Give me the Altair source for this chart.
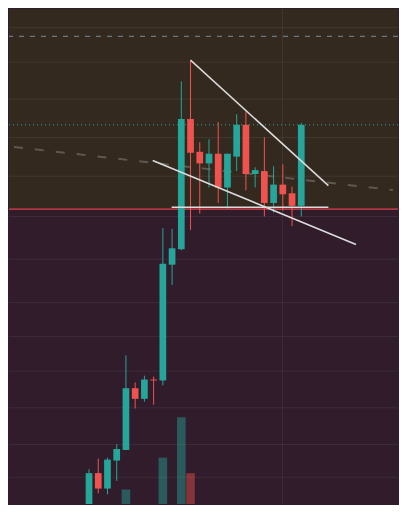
import altair as alt
import pandas as pd

# ---- data (price units are arbitrary) ----
bar_index = list(range(24))
opens  = [-1.0, 3.2, 1.6, 4.5, 5.6, 12.0, 10.9, 12.9, 12.8, 24.8, 26.4, 39.9,
          36.5, 35.3, 36.3, 32.8, 36.0, 39.3, 34.2, 34.5, 31.2, 33.1, 32.2, 30.9]
highs  = [3.6, 4.7, 4.8, 6.2, 15.4, 12.6, 13.3, 13.2, 28.6, 28.5, 43.8, 46.0,
          37.5, 37.8, 39.6, 36.3, 40.4, 40.7, 34.9, 38.0, 35.0, 35.2, 32.9, 39.5]
lows   = [-1.5, 1.1, 1.0, 2.4, 5.6, 9.9, 10.6, 10.3, 12.3, 22.7, 26.3, 28.4,
          30.1, 32.8, 31.2, 30.6, 34.5, 32.5, 32.8, 29.8, 30.2, 30.4, 28.8, 29.8]
closes = [3.2, 1.6, 4.6, 5.7, 12.0, 10.9, 12.9, 12.8, 24.9, 26.5, 39.9, 36.4,
          35.3, 36.3, 32.8, 36.3, 39.3, 34.2, 34.6, 31.2, 33.1, 32.1, 30.9, 39.3]
volumes = [0, 0, 0, 0, 88, 0, 0, 0, 281, 0, 526, 187,
           0, 0, 0, 0, 0, 0, 0, 0, 0, 0, 0, 0]

grid_levels = [49.37, 45.8, 41.97, 37.97, 33.97, 29.8, 25.37, 20.87, 17.37,
               13.77, 9.97, 6.17, 2.77]
xgrid_positions = [20.96]

zone_names = ["upper", "lower"]
zone_low = [30.57, 0.0]
zone_high = [51.3, 30.57]

red_level = [30.57]
blue_dashed_level = [48.47]
teal_dotted_level = [39.3]

slope_x = [-8.13, 32.94]
slope_y = [37.0, 32.53]

trend_ids = ["upper", "upper", "lower", "lower", "base", "base"]
trend_x = [11.0, 25.94, 6.90, 28.93, 8.95, 25.94]
trend_y = [46.0, 33.0, 35.6, 26.9, 30.75, 30.75]

X_DOMAIN = [-8.13, 32.94]
Y_DOMAIN = [0, 51.3]
VOL_DOMAIN = [0, 3000]

UP = "#26a69a"
DOWN = "#ef5350"

candles = pd.DataFrame({
    "i": bar_index, "open": opens, "high": highs, "low": lows,
    "close": closes, "volume": volumes,
})
candles["dir"] = ["up" if c >= o else "down" for o, c in zip(opens, closes)]

xs = alt.Scale(domain=X_DOMAIN, nice=False, zero=False)
ys = alt.Scale(domain=Y_DOMAIN, nice=False, zero=False)
col = alt.Scale(domain=["up", "down"], range=[UP, DOWN])

X = lambda f: alt.X(f, type="quantitative", scale=xs, axis=None)
Y = lambda f: alt.Y(f, type="quantitative", scale=ys, axis=None)

zones = pd.DataFrame({"zone": zone_names, "lo": zone_low, "hi": zone_high})
zone_layer = alt.Chart(zones).mark_rect().encode(
    y=Y("lo"), y2="hi",
    color=alt.Color("zone:N", scale=alt.Scale(domain=zone_names,
                    range=["#33291f", "#301c2a"]), legend=None),
)

hgrid = alt.Chart(pd.DataFrame({"v": grid_levels})).mark_rule(
    color="#ffffff", opacity=0.07, strokeWidth=1).encode(y=Y("v"))
vgrid = alt.Chart(pd.DataFrame({"v": xgrid_positions})).mark_rule(
    color="#ffffff", opacity=0.07, strokeWidth=1).encode(x=X("v"))

slope = alt.Chart(pd.DataFrame({"x": slope_x, "y": slope_y})).mark_line(
    color="#5f5850", strokeWidth=2, strokeDash=[9, 12], clip=True
).encode(x=X("x"), y=Y("y"))

blue_line = alt.Chart(pd.DataFrame({"v": blue_dashed_level})).mark_rule(
    color="#7b8a9a", strokeWidth=1, strokeDash=[5, 6]).encode(y=Y("v"))
teal_line = alt.Chart(pd.DataFrame({"v": teal_dotted_level})).mark_rule(
    color=UP, strokeWidth=1, strokeDash=[1, 3]).encode(y=Y("v"))
red_line = alt.Chart(pd.DataFrame({"v": red_level})).mark_rule(
    color="#e0404e", strokeWidth=1.2).encode(y=Y("v"))

base = alt.Chart(candles)
wicks = base.mark_rule(strokeWidth=1, clip=True).encode(
    x=X("i"), y=Y("low"), y2="high",
    color=alt.Color("dir:N", scale=col, legend=None))
bodies = base.mark_bar(size=6.7, clip=True).encode(
    x=X("i"), y=Y("open"), y2="close",
    color=alt.Color("dir:N", scale=col, legend=None))

trend = alt.Chart(pd.DataFrame({"id": trend_ids, "x": trend_x, "y": trend_y})
                  ).mark_line(color="#dcdcdc", strokeWidth=1.5, clip=True).encode(
    x=X("x"), y=Y("y"), detail="id:N")

price_layers = alt.layer(
    zone_layer,
    alt.layer(hgrid, vgrid, slope, blue_line, teal_line, red_line,
              wicks, bodies, trend),
).resolve_scale(color="independent")

vol_layer = base.mark_bar(size=8.6, clip=True).encode(
    x=X("i"),
    y=alt.Y("volume:Q", scale=alt.Scale(domain=VOL_DOMAIN, nice=False), axis=None),
    color=alt.Color("dir:N", scale=col, legend=None),
    opacity=alt.value(0.45),
)

chart = alt.layer(price_layers, vol_layer).resolve_scale(
    y="independent", color="independent"
).properties(
    width=391, height=497, padding=0, background="#301c2a",
    autosize=alt.AutoSizeParams(type="fit", contains="padding"),
).configure_view(strokeWidth=0)

chart.save("out.html", embed_options={"renderer": "svg", "actions": False})
